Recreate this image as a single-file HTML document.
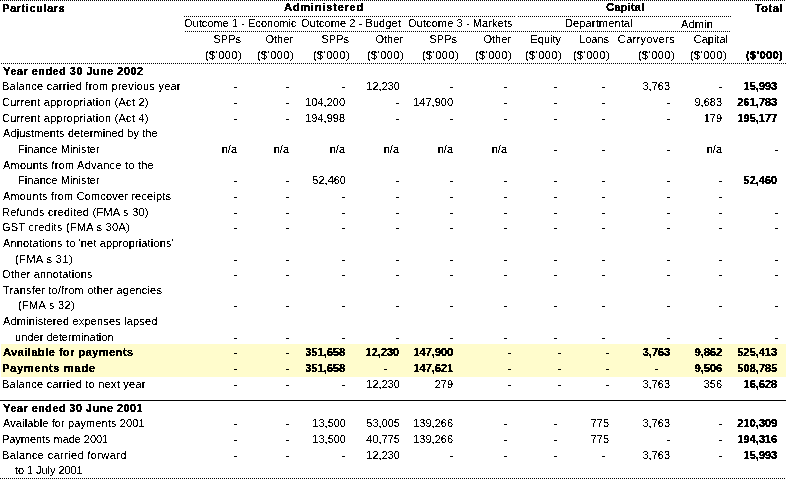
<!DOCTYPE html>
<html><head><meta charset="utf-8"><style>
html,body{margin:0;padding:0;background:#fff;width:786px;height:479px;overflow:hidden}
body{position:relative;font-family:"Liberation Sans",sans-serif;font-size:11px;color:#000}
.t{position:absolute;line-height:16px;white-space:nowrap}
.b{font-weight:bold;text-shadow:0.25px 0 0 #000}
.d{position:absolute;height:1px;background-image:linear-gradient(to right,#000 50%,transparent 50%);background-size:2px 1px;background-repeat:repeat-x}
.s{position:absolute;height:1px;background:#000}
.y{position:absolute;background:#fffccc}
.k{position:absolute;background:#000}
</style></head><body>
<div class="y" style="left:1px;top:344px;width:785px;height:33px"></div>
<div class="d" style="left:0;top:0;width:786px"></div>
<div class="d" style="left:184px;top:16px;width:331px"></div>
<div class="d" style="left:518px;top:16px;width:213px"></div>
<div class="d" style="left:185px;top:31px;width:545px"></div>
<div class="d" style="left:1px;top:63px;width:785px"></div>
<div class="s" style="left:0;top:400px;width:786px"></div>
<div class="d" style="left:0;top:478px;width:786px"></div>
<svg width="0" height="0" style="position:absolute;left:0;top:0"><filter id="bin" x="0" y="0" width="100%" height="100%" color-interpolation-filters="sRGB"><feComponentTransfer><feFuncA type="discrete" tableValues="0 0 0 0 1 1 1 1 1"/></feComponentTransfer></filter></svg>
<div style="position:absolute;left:0;top:0;width:786px;height:479px;filter:url(#bin)">
<div class="t b" id="e0" style="top:63px;left:3.00px;letter-spacing:0.438px;">Year ended 30 June 2002</div>
<div class="t" id="e1" style="top:78px;left:2.00px;letter-spacing:0.241px;">Balance carried from previous year</div>
<div class="t" id="e2" style="top:94px;left:2.00px;letter-spacing:0.255px;">Current appropriation (Act 2)</div>
<div class="t" id="e3" style="top:110px;left:2.00px;letter-spacing:0.255px;">Current appropriation (Act 4)</div>
<div class="t" id="e4" style="top:125px;left:3.00px;letter-spacing:0.109px;">Adjustments determined by the</div>
<div class="t" id="e5" style="top:141px;left:18.00px;letter-spacing:0.059px;">Finance Minister</div>
<div class="t" id="e6" style="top:157px;left:3.00px;letter-spacing:0.245px;">Amounts from Advance to the</div>
<div class="t" id="e7" style="top:172px;left:18.00px;letter-spacing:0.059px;">Finance Minister</div>
<div class="t" id="e8" style="top:188px;left:3.00px;letter-spacing:0.163px;">Amounts from Comcover receipts</div>
<div class="t" id="e9" style="top:204px;left:2.00px;letter-spacing:0.251px;">Refunds credited (FMA s 30)</div>
<div class="t" id="e10" style="top:219px;left:2.00px;letter-spacing:0.255px;">GST credits (FMA s 30A)</div>
<div class="t" id="e11" style="top:235px;left:3.00px;letter-spacing:0.148px;">Annotations to 'net appropriations'</div>
<div class="t" id="e12" style="top:251px;left:15.00px;letter-spacing:0.423px;">(FMA s 31)</div>
<div class="t" id="e13" style="top:266px;left:2.00px;letter-spacing:0.192px;">Other annotations</div>
<div class="t" id="e14" style="top:282px;left:3.00px;letter-spacing:0.195px;">Transfer to/from other agencies</div>
<div class="t" id="e15" style="top:297px;left:18.00px;letter-spacing:0.311px;">(FMA s 32)</div>
<div class="t" id="e16" style="top:313px;left:3.00px;letter-spacing:0.170px;">Administered expenses lapsed</div>
<div class="t" id="e17" style="top:329px;left:15.00px;letter-spacing:0.039px;">under determination</div>
<div class="t b" id="e18" style="top:344px;left:3.00px;letter-spacing:0.472px;">Available for payments</div>
<div class="t b" id="e19" style="top:360px;left:2.00px;letter-spacing:0.749px;">Payments made</div>
<div class="t" id="e20" style="top:376px;left:2.00px;letter-spacing:0.242px;">Balance carried to next year</div>
<div class="t b" id="e21" style="top:400px;left:3.00px;letter-spacing:0.415px;">Year ended 30 June 2001</div>
<div class="t" id="e22" style="top:415px;left:3.00px;letter-spacing:0.115px;">Available for payments 2001</div>
<div class="t" id="e23" style="top:431px;left:2.00px;letter-spacing:-0.050px;">Payments made 2001</div>
<div class="t" id="e24" style="top:447px;left:2.00px;letter-spacing:0.369px;">Balance carried forward</div>
<div class="t" id="e25" style="top:462px;left:15.00px;letter-spacing:-0.059px;">to 1 July 2001</div>
<div class="k" style="left:234px;top:87px;width:3px;height:1px"></div>
<div class="k" style="left:286px;top:87px;width:3px;height:1px"></div>
<div class="k" style="left:342px;top:87px;width:3px;height:1px"></div>
<div class="t" id="e29" style="top:78px;right:386.00px;">12,230</div>
<div class="k" style="left:450px;top:87px;width:3px;height:1px"></div>
<div class="k" style="left:504px;top:87px;width:3px;height:1px"></div>
<div class="k" style="left:554px;top:87px;width:3px;height:1px"></div>
<div class="k" style="left:602px;top:87px;width:3px;height:1px"></div>
<div class="t" id="e34" style="top:78px;right:116.00px;">3,763</div>
<div class="k" style="left:719px;top:87px;width:3px;height:1px"></div>
<div class="t b" id="e36" style="top:78px;right:9.00px;">15,993</div>
<div class="k" style="left:234px;top:103px;width:3px;height:1px"></div>
<div class="k" style="left:286px;top:103px;width:3px;height:1px"></div>
<div class="t" id="e39" style="top:94px;right:441.00px;">104,200</div>
<div class="k" style="left:396px;top:103px;width:3px;height:1px"></div>
<div class="t" id="e41" style="top:94px;right:333.00px;">147,900</div>
<div class="k" style="left:504px;top:103px;width:3px;height:1px"></div>
<div class="k" style="left:554px;top:103px;width:3px;height:1px"></div>
<div class="k" style="left:602px;top:103px;width:3px;height:1px"></div>
<div class="k" style="left:667px;top:103px;width:3px;height:1px"></div>
<div class="t" id="e46" style="top:94px;right:64.00px;">9,683</div>
<div class="t b" id="e47" style="top:94px;right:9.00px;">261,783</div>
<div class="k" style="left:234px;top:119px;width:3px;height:1px"></div>
<div class="k" style="left:286px;top:119px;width:3px;height:1px"></div>
<div class="t" id="e50" style="top:110px;right:441.00px;">194,998</div>
<div class="k" style="left:396px;top:119px;width:3px;height:1px"></div>
<div class="k" style="left:450px;top:119px;width:3px;height:1px"></div>
<div class="k" style="left:504px;top:119px;width:3px;height:1px"></div>
<div class="k" style="left:554px;top:119px;width:3px;height:1px"></div>
<div class="k" style="left:602px;top:119px;width:3px;height:1px"></div>
<div class="k" style="left:667px;top:119px;width:3px;height:1px"></div>
<div class="t" id="e57" style="top:110px;right:64.00px;">179</div>
<div class="t b" id="e58" style="top:110px;right:9.00px;">195,177</div>
<div class="t" id="e59" style="top:141px;right:549.00px;">n/a</div>
<div class="t" id="e60" style="top:141px;right:497.00px;">n/a</div>
<div class="t" id="e61" style="top:141px;right:441.00px;">n/a</div>
<div class="t" id="e62" style="top:141px;right:387.00px;">n/a</div>
<div class="t" id="e63" style="top:141px;right:333.00px;">n/a</div>
<div class="t" id="e64" style="top:141px;right:279.00px;">n/a</div>
<div class="k" style="left:554px;top:150px;width:3px;height:1px"></div>
<div class="k" style="left:602px;top:150px;width:3px;height:1px"></div>
<div class="k" style="left:667px;top:150px;width:3px;height:1px"></div>
<div class="t" id="e68" style="top:141px;right:64.00px;">n/a</div>
<div class="k" style="left:775px;top:150px;width:3px;height:1px"></div>
<div class="k" style="left:234px;top:181px;width:3px;height:1px"></div>
<div class="k" style="left:286px;top:181px;width:3px;height:1px"></div>
<div class="t" id="e72" style="top:172px;right:440.00px;">52,460</div>
<div class="k" style="left:396px;top:181px;width:3px;height:1px"></div>
<div class="k" style="left:450px;top:181px;width:3px;height:1px"></div>
<div class="k" style="left:504px;top:181px;width:3px;height:1px"></div>
<div class="k" style="left:554px;top:181px;width:3px;height:1px"></div>
<div class="k" style="left:602px;top:181px;width:3px;height:1px"></div>
<div class="k" style="left:667px;top:181px;width:3px;height:1px"></div>
<div class="k" style="left:719px;top:181px;width:3px;height:1px"></div>
<div class="t b" id="e80" style="top:172px;right:9.00px;">52,460</div>
<div class="k" style="left:234px;top:197px;width:3px;height:1px"></div>
<div class="k" style="left:286px;top:197px;width:3px;height:1px"></div>
<div class="k" style="left:342px;top:197px;width:3px;height:1px"></div>
<div class="k" style="left:396px;top:197px;width:3px;height:1px"></div>
<div class="k" style="left:450px;top:197px;width:3px;height:1px"></div>
<div class="k" style="left:504px;top:197px;width:3px;height:1px"></div>
<div class="k" style="left:554px;top:197px;width:3px;height:1px"></div>
<div class="k" style="left:602px;top:197px;width:3px;height:1px"></div>
<div class="k" style="left:667px;top:197px;width:3px;height:1px"></div>
<div class="k" style="left:719px;top:197px;width:3px;height:1px"></div>
<div class="k" style="left:234px;top:213px;width:3px;height:1px"></div>
<div class="k" style="left:286px;top:213px;width:3px;height:1px"></div>
<div class="k" style="left:342px;top:213px;width:3px;height:1px"></div>
<div class="k" style="left:396px;top:213px;width:3px;height:1px"></div>
<div class="k" style="left:450px;top:213px;width:3px;height:1px"></div>
<div class="k" style="left:504px;top:213px;width:3px;height:1px"></div>
<div class="k" style="left:554px;top:213px;width:3px;height:1px"></div>
<div class="k" style="left:602px;top:213px;width:3px;height:1px"></div>
<div class="k" style="left:667px;top:213px;width:3px;height:1px"></div>
<div class="k" style="left:719px;top:213px;width:3px;height:1px"></div>
<div class="k" style="left:775px;top:213px;width:3px;height:1px"></div>
<div class="k" style="left:234px;top:228px;width:3px;height:1px"></div>
<div class="k" style="left:286px;top:228px;width:3px;height:1px"></div>
<div class="k" style="left:342px;top:228px;width:3px;height:1px"></div>
<div class="k" style="left:396px;top:228px;width:3px;height:1px"></div>
<div class="k" style="left:450px;top:228px;width:3px;height:1px"></div>
<div class="k" style="left:504px;top:228px;width:3px;height:1px"></div>
<div class="k" style="left:554px;top:228px;width:3px;height:1px"></div>
<div class="k" style="left:602px;top:228px;width:3px;height:1px"></div>
<div class="k" style="left:667px;top:228px;width:3px;height:1px"></div>
<div class="k" style="left:719px;top:228px;width:3px;height:1px"></div>
<div class="k" style="left:775px;top:228px;width:3px;height:1px"></div>
<div class="k" style="left:234px;top:260px;width:3px;height:1px"></div>
<div class="k" style="left:286px;top:260px;width:3px;height:1px"></div>
<div class="k" style="left:342px;top:260px;width:3px;height:1px"></div>
<div class="k" style="left:396px;top:260px;width:3px;height:1px"></div>
<div class="k" style="left:450px;top:260px;width:3px;height:1px"></div>
<div class="k" style="left:504px;top:260px;width:3px;height:1px"></div>
<div class="k" style="left:554px;top:260px;width:3px;height:1px"></div>
<div class="k" style="left:602px;top:260px;width:3px;height:1px"></div>
<div class="k" style="left:667px;top:260px;width:3px;height:1px"></div>
<div class="k" style="left:719px;top:260px;width:3px;height:1px"></div>
<div class="k" style="left:775px;top:260px;width:3px;height:1px"></div>
<div class="k" style="left:234px;top:275px;width:3px;height:1px"></div>
<div class="k" style="left:286px;top:275px;width:3px;height:1px"></div>
<div class="k" style="left:342px;top:275px;width:3px;height:1px"></div>
<div class="k" style="left:396px;top:275px;width:3px;height:1px"></div>
<div class="k" style="left:450px;top:275px;width:3px;height:1px"></div>
<div class="k" style="left:504px;top:275px;width:3px;height:1px"></div>
<div class="k" style="left:554px;top:275px;width:3px;height:1px"></div>
<div class="k" style="left:602px;top:275px;width:3px;height:1px"></div>
<div class="k" style="left:667px;top:275px;width:3px;height:1px"></div>
<div class="k" style="left:719px;top:275px;width:3px;height:1px"></div>
<div class="k" style="left:775px;top:275px;width:3px;height:1px"></div>
<div class="k" style="left:234px;top:306px;width:3px;height:1px"></div>
<div class="k" style="left:286px;top:306px;width:3px;height:1px"></div>
<div class="k" style="left:342px;top:306px;width:3px;height:1px"></div>
<div class="k" style="left:396px;top:306px;width:3px;height:1px"></div>
<div class="k" style="left:450px;top:306px;width:3px;height:1px"></div>
<div class="k" style="left:504px;top:306px;width:3px;height:1px"></div>
<div class="k" style="left:554px;top:306px;width:3px;height:1px"></div>
<div class="k" style="left:602px;top:306px;width:3px;height:1px"></div>
<div class="k" style="left:667px;top:306px;width:3px;height:1px"></div>
<div class="k" style="left:719px;top:306px;width:3px;height:1px"></div>
<div class="k" style="left:775px;top:306px;width:3px;height:1px"></div>
<div class="k" style="left:234px;top:338px;width:3px;height:1px"></div>
<div class="k" style="left:286px;top:338px;width:3px;height:1px"></div>
<div class="k" style="left:342px;top:338px;width:3px;height:1px"></div>
<div class="k" style="left:396px;top:338px;width:3px;height:1px"></div>
<div class="k" style="left:450px;top:338px;width:3px;height:1px"></div>
<div class="k" style="left:504px;top:338px;width:3px;height:1px"></div>
<div class="k" style="left:554px;top:338px;width:3px;height:1px"></div>
<div class="k" style="left:602px;top:338px;width:3px;height:1px"></div>
<div class="k" style="left:667px;top:338px;width:3px;height:1px"></div>
<div class="k" style="left:719px;top:338px;width:3px;height:1px"></div>
<div class="k" style="left:775px;top:338px;width:3px;height:1px"></div>
<div class="k" style="left:234px;top:353px;width:3px;height:1px"></div>
<div class="k" style="left:286px;top:353px;width:3px;height:1px"></div>
<div class="t b" id="e159" style="top:344px;right:441.00px;">351,658</div>
<div class="t b" id="e160" style="top:344px;right:387.00px;">12,230</div>
<div class="t b" id="e161" style="top:344px;right:333.00px;">147,900</div>
<div class="k" style="left:508px;top:353px;width:3px;height:1px"></div>
<div class="k" style="left:558px;top:353px;width:3px;height:1px"></div>
<div class="k" style="left:606px;top:353px;width:3px;height:1px"></div>
<div class="t b" id="e165" style="top:344px;right:116.00px;">3,763</div>
<div class="t b" id="e166" style="top:344px;right:64.00px;">9,862</div>
<div class="t b" id="e167" style="top:344px;right:9.00px;">525,413</div>
<div class="k" style="left:234px;top:369px;width:3px;height:1px"></div>
<div class="k" style="left:286px;top:369px;width:3px;height:1px"></div>
<div class="t b" id="e170" style="top:360px;right:441.00px;">351,658</div>
<div class="k" style="left:384px;top:369px;width:3px;height:1px"></div>
<div class="t b" id="e172" style="top:360px;right:333.00px;">147,621</div>
<div class="k" style="left:508px;top:369px;width:3px;height:1px"></div>
<div class="k" style="left:558px;top:369px;width:3px;height:1px"></div>
<div class="k" style="left:606px;top:369px;width:3px;height:1px"></div>
<div class="k" style="left:655px;top:369px;width:3px;height:1px"></div>
<div class="t b" id="e177" style="top:360px;right:64.00px;">9,506</div>
<div class="t b" id="e178" style="top:360px;right:9.00px;">508,785</div>
<div class="k" style="left:234px;top:385px;width:3px;height:1px"></div>
<div class="k" style="left:286px;top:385px;width:3px;height:1px"></div>
<div class="k" style="left:342px;top:385px;width:3px;height:1px"></div>
<div class="t" id="e182" style="top:376px;right:386.00px;">12,230</div>
<div class="t" id="e183" style="top:376px;right:333.00px;">279</div>
<div class="k" style="left:508px;top:385px;width:3px;height:1px"></div>
<div class="k" style="left:558px;top:385px;width:3px;height:1px"></div>
<div class="k" style="left:606px;top:385px;width:3px;height:1px"></div>
<div class="t" id="e187" style="top:376px;right:116.00px;">3,763</div>
<div class="t" id="e188" style="top:376px;right:64.00px;">356</div>
<div class="t b" id="e189" style="top:376px;right:9.00px;">16,628</div>
<div class="k" style="left:234px;top:424px;width:3px;height:1px"></div>
<div class="k" style="left:286px;top:424px;width:3px;height:1px"></div>
<div class="t" id="e192" style="top:415px;right:440.00px;">13,500</div>
<div class="t" id="e193" style="top:415px;right:386.00px;">53,005</div>
<div class="t" id="e194" style="top:415px;right:333.00px;">139,266</div>
<div class="k" style="left:504px;top:424px;width:3px;height:1px"></div>
<div class="k" style="left:554px;top:424px;width:3px;height:1px"></div>
<div class="t" id="e197" style="top:415px;right:177.00px;">775</div>
<div class="t" id="e198" style="top:415px;right:116.00px;">3,763</div>
<div class="k" style="left:719px;top:424px;width:3px;height:1px"></div>
<div class="t b" id="e200" style="top:415px;right:9.00px;">210,309</div>
<div class="k" style="left:234px;top:440px;width:3px;height:1px"></div>
<div class="k" style="left:286px;top:440px;width:3px;height:1px"></div>
<div class="t" id="e203" style="top:431px;right:440.00px;">13,500</div>
<div class="t" id="e204" style="top:431px;right:386.00px;">40,775</div>
<div class="t" id="e205" style="top:431px;right:333.00px;">139,266</div>
<div class="k" style="left:504px;top:440px;width:3px;height:1px"></div>
<div class="k" style="left:554px;top:440px;width:3px;height:1px"></div>
<div class="t" id="e208" style="top:431px;right:177.00px;">775</div>
<div class="k" style="left:667px;top:440px;width:3px;height:1px"></div>
<div class="k" style="left:719px;top:440px;width:3px;height:1px"></div>
<div class="t b" id="e211" style="top:431px;right:9.00px;">194,316</div>
<div class="k" style="left:234px;top:456px;width:3px;height:1px"></div>
<div class="k" style="left:286px;top:456px;width:3px;height:1px"></div>
<div class="k" style="left:342px;top:456px;width:3px;height:1px"></div>
<div class="t" id="e215" style="top:447px;right:386.00px;">12,230</div>
<div class="k" style="left:450px;top:456px;width:3px;height:1px"></div>
<div class="k" style="left:504px;top:456px;width:3px;height:1px"></div>
<div class="k" style="left:554px;top:456px;width:3px;height:1px"></div>
<div class="k" style="left:602px;top:456px;width:3px;height:1px"></div>
<div class="t" id="e220" style="top:447px;right:116.00px;">3,763</div>
<div class="k" style="left:719px;top:456px;width:3px;height:1px"></div>
<div class="t b" id="e222" style="top:447px;right:9.00px;">15,993</div>
<div class="t b" id="e223" style="top:0px;left:2.00px;letter-spacing:0.569px;">Particulars</div>
<div class="t b" id="e224" style="top:-1px;left:284.00px;letter-spacing:0.790px;">Administered</div>
<div class="t b" id="e225" style="top:-1px;left:606.00px;letter-spacing:0.219px;">Capital</div>
<div class="t b" id="e226" style="top:0px;right:3.00px;letter-spacing:0.583px;">Total</div>
<div class="t" id="e227" style="top:15px;left:184.00px;letter-spacing:0.035px;">Outcome 1 - Economic</div>
<div class="t" id="e228" style="top:15px;left:301.00px;letter-spacing:0.075px;">Outcome 2 - Budget</div>
<div class="t" id="e229" style="top:15px;left:408.00px;letter-spacing:0.103px;">Outcome 3 - Markets</div>
<div class="t" id="e230" style="top:15px;left:565.00px;letter-spacing:0.140px;">Departmental</div>
<div class="t" id="e231" style="top:16px;left:681.00px;letter-spacing:0.153px;">Admin</div>
<div class="t" id="e232" style="top:31px;right:545.00px;">SPPs</div>
<div class="t" id="e233" style="top:31px;right:493.00px;">Other</div>
<div class="t" id="e234" style="top:31px;right:437.00px;">SPPs</div>
<div class="t" id="e235" style="top:31px;right:383.00px;">Other</div>
<div class="t" id="e236" style="top:31px;right:329.00px;">SPPs</div>
<div class="t" id="e237" style="top:31px;right:275.00px;">Other</div>
<div class="t" id="e238" style="top:31px;right:225.00px;">Equity</div>
<div class="t" id="e239" style="top:31px;right:177.00px;">Loans</div>
<div class="t" id="e240" style="top:31px;right:111.00px;letter-spacing:0.335px;">Carryovers</div>
<div class="t" id="e241" style="top:31px;right:58.00px;">Capital</div>
<div class="t" id="e242" style="top:47px;right:544.00px;letter-spacing:0.449px;">($'000)</div>
<div class="t" id="e243" style="top:47px;right:492.00px;letter-spacing:0.449px;">($'000)</div>
<div class="t" id="e244" style="top:47px;right:436.00px;letter-spacing:0.449px;">($'000)</div>
<div class="t" id="e245" style="top:47px;right:382.00px;letter-spacing:0.449px;">($'000)</div>
<div class="t" id="e246" style="top:47px;right:327.00px;letter-spacing:0.449px;">($'000)</div>
<div class="t" id="e247" style="top:47px;right:274.00px;letter-spacing:0.449px;">($'000)</div>
<div class="t" id="e248" style="top:47px;right:224.00px;letter-spacing:0.449px;">($'000)</div>
<div class="t" id="e249" style="top:47px;right:176.00px;letter-spacing:0.449px;">($'000)</div>
<div class="t" id="e250" style="top:47px;right:111.00px;letter-spacing:0.449px;">($'000)</div>
<div class="t" id="e251" style="top:47px;right:59.00px;letter-spacing:0.449px;">($'000)</div>
<div class="t b" id="e252" style="top:47px;right:3.00px;letter-spacing:0.396px;">($'000)</div>
</div>
</body></html>
